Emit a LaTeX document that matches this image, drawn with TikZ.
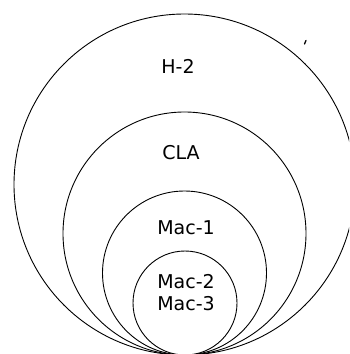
\documentclass[tikz,border=0pt]{standalone}
\usepackage{fontspec}
\setmainfont{DejaVu Sans}
\begin{document}
\begin{tikzpicture}[x=1pt, y=-1pt,
  ring/.style={draw=black, line width=0.9pt, circle, inner sep=0pt, outer sep=0pt},
  lbl/.style={font=\fontsize{19}{21.5}\selectfont, inner sep=0pt, align=center}]
\useasboundingbox (0,0) rectangle (349,354);
\begin{scope}
  \clip (0,0) rectangle (349,354);
  % nested circles, all touching at one point at the bottom
  \node[ring, minimum size=341pt] (h2)  at (184.5,184.5) {};
  \node[ring, minimum size=243pt] (cla) at (184.5,233.5) {};
  \node[ring, minimum size=164pt] (mac1) at (184.5,273) {};
  \node[ring, minimum size=104pt] (mac23) at (185,303) {};
\end{scope}
% labels
\node[lbl] (th2)   at (178,66)    {H-2};
\node[lbl] (tcla)  at (181,153)   {CLA};
\node[lbl] (tmac1) at (186,228)   {Mac-1};
\node[lbl] (tmac23) at (186,292.5) {Mac-2\\Mac-3};
% small pen mark near the outer ring
\draw[line width=1.3pt, line cap=round] (304.5,44) -- (306,40.5);
\end{tikzpicture}
\end{document}
